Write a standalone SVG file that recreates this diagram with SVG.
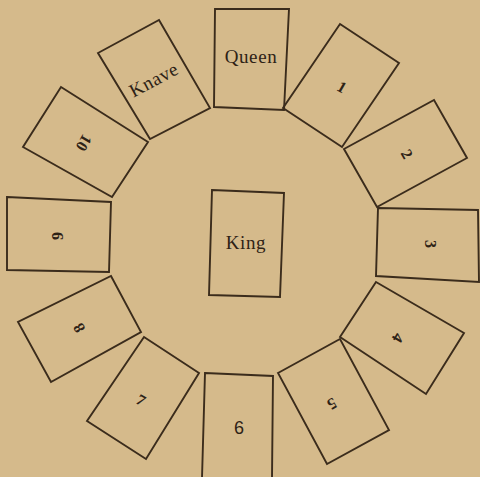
<svg xmlns="http://www.w3.org/2000/svg" width="480" height="477" viewBox="0 0 480 477">
<style>
.card{fill:none;stroke:#3b2c1c;stroke-width:1.9;stroke-linejoin:miter}
.court{font-family:"Liberation Serif","DejaVu Serif",serif;font-size:19px;fill:#2e2216;text-anchor:middle;letter-spacing:0.6px}
.num{font-family:"Liberation Serif","DejaVu Serif",serif;font-size:16px;font-weight:bold;fill:#2e2216;text-anchor:middle;dominant-baseline:central}
</style>
<rect x="0" y="0" width="480" height="477" fill="#d5ba8b"/>
<g id="connectors"/>
<g id="queen"><polygon class="card" points="215,9 289,9 284,110 214,107"/><text class="court" x="251" y="63">Queen</text></g>
<g id="knave"><polygon class="card" points="159,20 210,108 150,139 98,53"/><text class="court" transform="translate(154,80) rotate(-28)" x="0" y="6">Knave</text></g>
<g id="card1"><polygon class="card" points="340,24 399,63 342,147 283,108"/><text class="num" transform="translate(342,87) rotate(30)">1</text></g>
<g id="card2"><polygon class="card" points="344,149 434,100 467,158 377,207"/><text class="num" transform="translate(407,154) rotate(60)">2</text></g>
<g id="card3"><polygon class="card" points="378,208 478,210 479,282 376,276"/><text class="num" transform="translate(430,244) rotate(90)">3</text></g>
<g id="card4"><polygon class="card" points="376,282 464,333 426,394 340,337"/><text class="num" transform="translate(398,338) rotate(120)">4</text></g>
<g id="card5"><polygon class="card" points="278,373 340,339 389,430 327,464"/><text class="num" transform="translate(332,404) rotate(150)">5</text></g>
<g id="card6"><polygon class="card" points="205,373 273,376 272,478 202,478"/><text class="num" style="font-family:'Liberation Sans','DejaVu Sans',sans-serif;font-size:18px;font-weight:normal" transform="translate(239,428)">6</text></g>
<g id="card7"><polygon class="card" points="144,337 199,373 146,459 87,421"/><text class="num" transform="translate(141,400) rotate(30)">7</text></g>
<g id="card8"><polygon class="card" points="111,276 141,332 51,382 18,322"/><text class="num" transform="translate(79,328) rotate(240)">8</text></g>
<g id="card9"><polygon class="card" points="7,197 111,202 109,272 7,270"/><text class="num" transform="translate(57,236) rotate(270)">9</text></g>
<g id="card10"><polygon class="card" points="61,87 148,142 112,197 23,147"/><text class="num" transform="translate(84,143) rotate(120)">10</text></g>
<g id="king"><polygon class="card" points="212,190 284,193 280,297 209,295"/><text class="court" x="246" y="249">King</text></g>
</svg>
